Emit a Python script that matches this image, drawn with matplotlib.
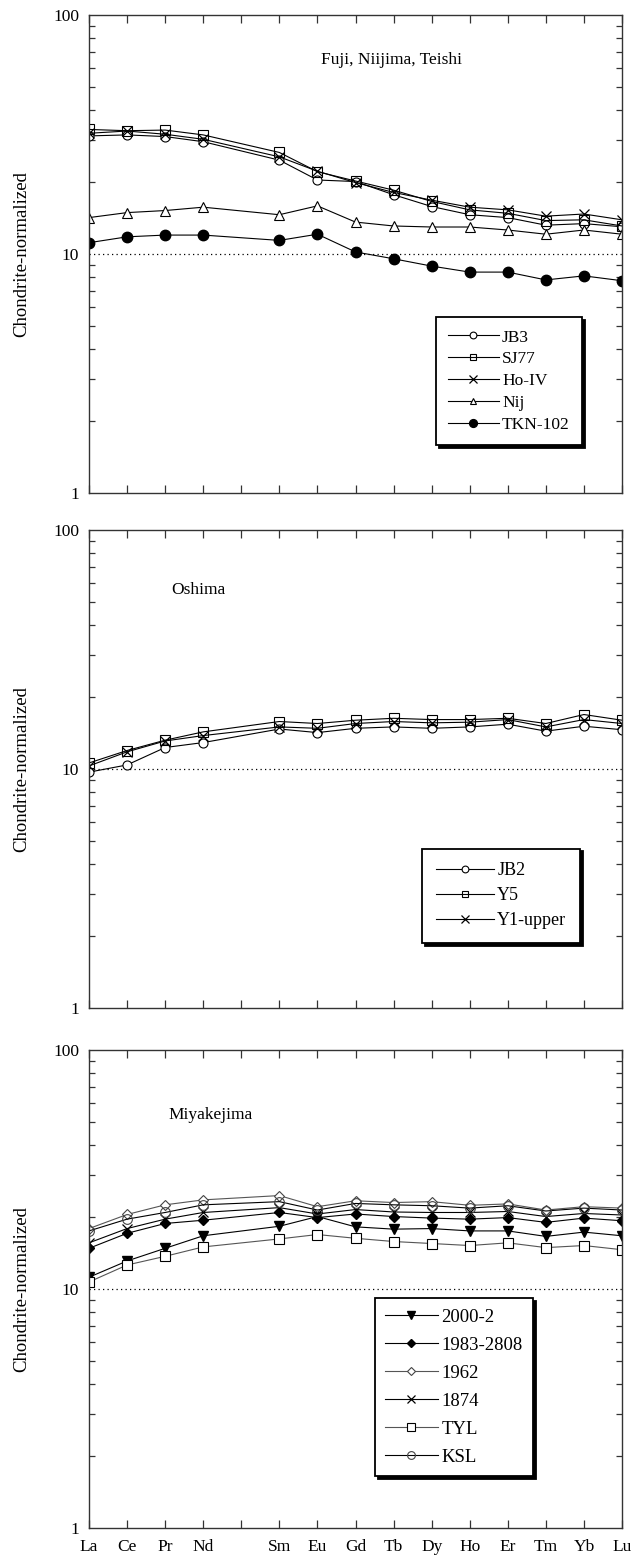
import matplotlib
matplotlib.use("Agg")
import matplotlib.pyplot as plt
from matplotlib.ticker import LogLocator, NullFormatter, FixedLocator, FixedFormatter
import numpy as np

plt.rcParams['font.family'] = ['Liberation Serif', 'DejaVu Serif']

# Rare earth elements (Pm is kept as an empty slot on the axis)
axis_elements = ["La", "Ce", "Pr", "Nd", "Pm", "Sm", "Eu", "Gd", "Tb", "Dy", "Ho", "Er", "Tm", "Yb", "Lu"]
tick_labels = ["La", "Ce", "Pr", "Nd", "", "Sm", "Eu", "Gd", "Tb", "Dy", "Ho", "Er", "Tm", "Yb", "Lu"]
ree = ["La", "Ce", "Pr", "Nd", "Sm", "Eu", "Gd", "Tb", "Dy", "Ho", "Er", "Tm", "Yb", "Lu"]

# Fuji, Niijima, Teishi
jb3 = [31.2, 31.5, 31.0, 29.5, 24.7, 20.4, 20.1, 17.7, 15.8, 14.6, 14.2, 13.2, 13.4, 13.0]
sj77 = [33.2, 32.8, 33.0, 31.5, 26.6, 22.1, 20.2, 18.5, 16.6, 15.3, 14.8, 13.8, 13.9, 13.1]
ho_iv = [32.0, 32.7, 31.7, 30.2, 25.5, 22.2, 19.9, 18.1, 16.8, 15.7, 15.3, 14.4, 14.7, 13.9]
nij = [14.2, 14.9, 15.2, 15.7, 14.6, 15.9, 13.6, 13.1, 12.97, 12.97, 12.6, 12.1, 12.6, 12.1]
tkn102 = [11.15, 11.8, 12.0, 12.0, 11.4, 12.1, 10.2, 9.55, 8.9, 8.4, 8.4, 7.79, 8.1, 7.73]

# Oshima
jb2 = [9.7, 10.4, 12.3, 12.9, 14.7, 14.2, 14.8, 15.0, 14.8, 15.0, 15.4, 14.4, 15.1, 14.6]
y5 = [10.6, 11.95, 13.2, 14.3, 15.8, 15.5, 16.0, 16.3, 16.1, 16.1, 16.3, 15.5, 16.9, 16.0]
y1_upper = [10.3, 11.8, 13.1, 13.8, 15.0, 14.8, 15.5, 15.8, 15.6, 15.7, 16.1, 15.0, 16.1, 15.5]

# Miyakejima
m2000_2 = [11.2, 13.1, 14.8, 16.7, 18.3, 20.1, 18.2, 17.8, 17.9, 17.5, 17.5, 16.6, 17.3, 16.7]
m1983 = [14.8, 17.1, 18.8, 19.4, 20.9, 19.9, 20.6, 20.1, 19.8, 19.6, 19.9, 19.0, 19.8, 19.3]
m1962 = [17.9, 20.5, 22.5, 23.6, 24.6, 22.1, 23.4, 23.0, 23.2, 22.4, 22.7, 21.4, 22.1, 21.8]
m1874 = [15.6, 17.9, 19.6, 20.9, 21.9, 20.6, 21.5, 21.0, 20.9, 20.9, 21.1, 20.1, 20.7, 20.4]
tyl = [10.7, 12.6, 13.7, 15.0, 16.2, 16.9, 16.3, 15.8, 15.5, 15.2, 15.6, 14.9, 15.2, 14.6]
ksl = [17.5, 19.6, 20.9, 22.5, 23.2, 21.4, 22.8, 22.5, 22.3, 21.8, 22.3, 21.2, 21.8, 21.4]

xpos = [axis_elements.index(e) for e in ree]

fig = plt.figure(figsize=(6.40, 15.59), dpi=100)
L, W, H = 89 / 640, 533 / 640, 478 / 1559
bottoms = [1 - 493 / 1559, 1 - 1008 / 1559, 1 - 1528 / 1559]
axes = [fig.add_axes([L, b, W, H]) for b in bottoms]

TICK_FS = 12.5


def style_axis(ax, show_xlabels):
    ax.set_yscale('log')
    ax.set_ylim(1, 100)
    ax.set_xlim(0, len(axis_elements) - 1)
    ax.xaxis.set_major_locator(FixedLocator(range(len(axis_elements))))
    if show_xlabels:
        ax.xaxis.set_major_formatter(FixedFormatter(tick_labels))
    else:
        ax.xaxis.set_major_formatter(NullFormatter())
    ax.yaxis.set_minor_locator(LogLocator(base=10, subs=np.arange(2, 10), numticks=20))
    ax.yaxis.set_minor_formatter(NullFormatter())
    ax.set_yticks([1, 10, 100])
    ax.set_yticklabels(["1", "10", "100"])
    ax.tick_params(axis='both', which='both', direction='in', top=True, right=True,
                   labelsize=TICK_FS, width=0.9, color='#333333')
    ax.tick_params(axis='x', which='major', length=5.5, pad=8)
    ax.tick_params(axis='y', which='major', length=0, pad=7)
    ax.tick_params(axis='y', which='minor', length=4)
    for s in ax.spines.values():
        s.set_linewidth(1.0)
        s.set_color('#333333')
    ax.axhline(10, color='black', lw=0.9, ls=(0, (1, 2.6)), zorder=1)
    ax.set_ylabel("Chondrite-normalized", fontsize=13.5)
    ax.yaxis.set_label_coords(-0.111, 0.5)


lw = 0.8
legend_kw = dict(frameon=True, fancybox=False, edgecolor='black', framealpha=1,
                 handletextpad=0.2, borderaxespad=0,
                 shadow={'color': 'black', 'alpha': 1})

# Panel 1
ax = axes[0]
style_axis(ax, False)
ax.plot(xpos, jb3, color='black', lw=lw, marker='o', ms=6.5, mfc='white', mec='black', mew=0.8, label='JB3')
ax.plot(xpos, sj77, color='black', lw=lw, marker='s', ms=6.5, mfc='none', mec='black', mew=0.8, label='SJ77')
ax.plot(xpos, ho_iv, color='black', lw=lw, marker='x', ms=7, mec='black', mew=0.9, label='Ho-IV')
ax.plot(xpos, nij, color='black', lw=lw, marker='^', ms=6.5, mfc='white', mec='black', mew=0.8, label='Nij')
ax.plot(xpos, tkn102, color='black', lw=lw, marker='o', ms=7.5, mfc='black', mec='black', label='TKN-102')
ax.text(0.435, 0.905, "Fuji, Niijima, Teishi", transform=ax.transAxes, fontsize=12.5, ha='left', va='center')
leg = ax.legend(loc='lower right', bbox_to_anchor=(0.925, 0.10), labelspacing=0.33,
                borderpad=0.7, markerscale=0.75, fontsize=12.5, handlelength=2.9, **legend_kw)
leg.get_frame().set_linewidth(1.3)

# Panel 2
ax = axes[1]
style_axis(ax, False)
ax.plot(xpos, jb2, color='black', lw=lw, marker='o', ms=6.5, mfc='white', mec='black', mew=0.8, label='JB2')
ax.plot(xpos, y5, color='black', lw=lw, marker='s', ms=6.5, mfc='none', mec='black', mew=0.8, label='Y5')
ax.plot(xpos, y1_upper, color='black', lw=lw, marker='x', ms=7, mec='black', mew=0.9, label='Y1-upper')
ax.text(0.155, 0.875, "Oshima", transform=ax.transAxes, fontsize=12.5, ha='left', va='center')
leg = ax.legend(loc='lower right', bbox_to_anchor=(0.921, 0.136), labelspacing=0.45,
                borderpad=0.75, markerscale=0.75, fontsize=13, handlelength=3.2, **legend_kw)
leg.get_frame().set_linewidth(1.3)

# Panel 3
ax = axes[2]
style_axis(ax, True)
ax.plot(xpos, m2000_2, color='black', lw=lw, marker='v', ms=7, mfc='black', mec='black', label='2000-2')
ax.plot(xpos, m1983, color='black', lw=lw, marker='D', ms=5.5, mfc='black', mec='black', label='1983-2808')
ax.plot(xpos, m1962, color='#555555', lw=lw, marker='D', ms=5.5, mfc='white', mec='#444444', mew=0.8, label='1962')
ax.plot(xpos, m1874, color='black', lw=lw, marker='x', ms=7, mec='black', mew=0.9, label='1874')
ax.plot(xpos, tyl, color='#555555', lw=lw, marker='s', ms=7, mfc='white', mec='black', mew=0.8, label='TYL')
ax.plot(xpos, ksl, color='black', lw=lw, marker='o', ms=7, mfc='none', mec='#444444', mew=0.8, label='KSL')
ax.text(0.15, 0.865, "Miyakejima", transform=ax.transAxes, fontsize=12.5, ha='left', va='center')
leg = ax.legend(loc='lower right', bbox_to_anchor=(0.833, 0.109), labelspacing=0.58,
                borderpad=0.55, markerscale=0.8, fontsize=13.5, handlelength=2.8, **legend_kw)
leg.get_frame().set_linewidth(1.3)

fig.savefig("out.png", dpi=100)
